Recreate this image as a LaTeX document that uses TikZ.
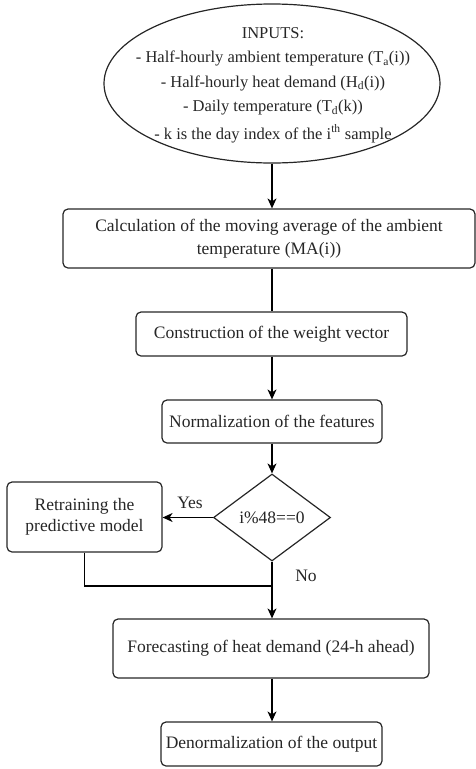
\documentclass[tikz,border=0pt]{standalone}
\usepackage{fontspec}
\setmainfont{Liberation Serif}
\usetikzlibrary{shapes.geometric,arrows.meta}
\begin{document}
\begin{tikzpicture}[x=1pt,y=-1pt,
  every node/.style={font=\fontsize{17.5}{22.5}\selectfont, text=black!85},
  proc/.style={draw=black!85, line width=1.2pt, rounded corners=5pt, align=center, inner sep=0pt},
  conn/.style={draw=black, line width=1.2pt},
  arr/.style={conn, -{Stealth[length=10pt,width=9pt,inset=3pt]}},
  lbl/.style={inner sep=0pt}
]
\useasboundingbox (0,0) rectangle (476,769);
\node[draw=black!85, line width=1.2pt, ellipse, minimum width=336pt, minimum height=159pt, inner sep=0pt] (inellipse) at (272,83.5) {};
\node[align=center, inner sep=0pt, font=\fontsize{16.5}{24.5}\selectfont] (inputs) at (273,85) {INPUTS:\\
- Half-hourly ambient temperature (T\textsubscript{a}(i))\\
- Half-hourly heat demand (H\textsubscript{d}(i))\\
- Daily temperature (T\textsubscript{d}(k))\\[3pt]
- k is the day index of the i\textsuperscript{th} sample};
\node[proc, minimum width=412pt, minimum height=59pt] (calc) at (269,238.5) {Calculation of the moving average of the ambient\\ temperature (MA(i))};
\node[proc, minimum width=271pt, minimum height=44pt] (weight) at (271.5,334) {Construction of the weight vector};
\node[proc, minimum width=220pt, minimum height=43pt] (norm) at (272,421.5) {Normalization of the features};
\node[draw=black!85, line width=1.2pt, diamond, minimum width=117pt, minimum height=87pt, inner sep=0pt] (cond) at (272,517.5) {i\%48==0};
\node[proc, minimum width=155pt, minimum height=70pt, font=\fontsize{17.5}{21.5}\selectfont] (retrain) at (84.5,517) {Retraining the\\ predictive model};
\node[proc, minimum width=316pt, minimum height=59pt] (forecast) at (271,648.5) {Forecasting of heat demand (24-h ahead)};
\node[proc, minimum width=221pt, minimum height=44pt] (denorm) at (271.5,744) {Denormalization of the output};
\node[lbl] (yes) at (190,503) {Yes};
\node[lbl] (no) at (306,576) {No};
\coordinate (merge) at (272,586);

\draw[arr] (inellipse.south) -- (inellipse.south |- calc.north);
\draw[conn] (calc.south -| inellipse.south) -- (weight.north -| inellipse.south);
\draw[arr] (weight.south -| inellipse.south) -- (norm.north);
\draw[arr] (norm.south) -- (cond.north);
\draw[arr] (cond.west) -- (retrain.east |- cond.west);
\draw[conn] (retrain.south) |- (merge);
\draw[arr] (cond.south) -- (cond.south |- forecast.north);
\draw[arr] (forecast.south -| cond.south) -- (denorm.north -| cond.south);
\end{tikzpicture}
\end{document}
